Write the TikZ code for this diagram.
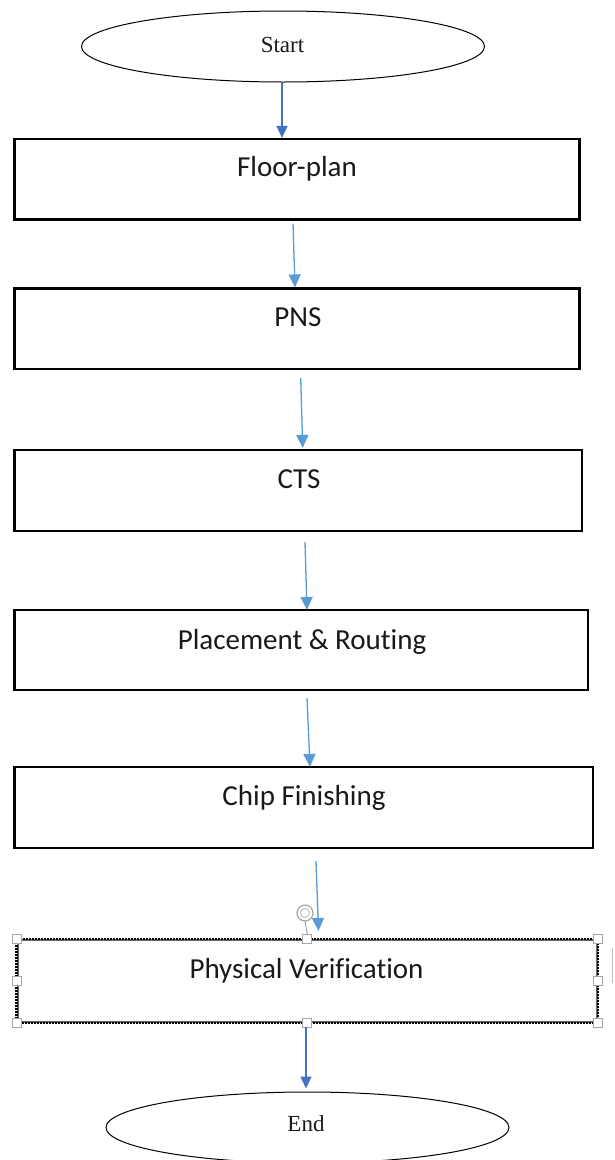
\documentclass[tikz,border=0pt]{standalone}
\usepackage{fontspec}
\setmainfont{Carlito}[Ligatures={NoCommon}]
\newfontfamily\serifface{Liberation Serif}
\usetikzlibrary{shapes.geometric,arrows.meta,calc}

\definecolor{lightarrow}{HTML}{5B9BD5}
\definecolor{darkarrow}{HTML}{4472C4}
\definecolor{handlegray}{HTML}{A6A6A6}

\tikzset{
  stepbox/.style={draw=black, line width=2.2pt, rectangle, inner sep=0pt},
  selbox/.style={draw=black!60, line width=2.2pt, rectangle, inner sep=0pt},
  seldash/.style={draw=black, line width=2.2pt, dash pattern=on 2pt off 1pt},
  terminal/.style={draw=black, line width=1pt, ellipse, inner sep=0pt,
                   minimum width=403pt, minimum height=71pt},
  steptext/.style={anchor=base, inner sep=0pt, font=\fontsize{29}{31}\selectfont, text=black!90},
  termtext/.style={anchor=base, inner sep=0pt, font=\serifface\fontsize{23}{25}\selectfont, text=black!90},
  flowlight/.style={draw=lightarrow, line width=1.3pt, -{Triangle[width=12pt,length=13pt]}},
  flowdark/.style={draw=darkarrow, line width=1.6pt, -{Triangle[width=11pt,length=12pt]}},
  grip/.style={draw=handlegray, fill=white, line width=0.9pt, rectangle,
               minimum size=9pt, inner sep=0pt}
}

\begin{document}
\begin{tikzpicture}[x=1pt, y=-1pt]
  \useasboundingbox (0,0) rectangle (614,1160);
  \fill[white] (0,0) rectangle (614,1160);

  % terminals
  \node[terminal] (start) at (283,46.5) {};
  \node[termtext] (starttxt) at (282.5,52) {Start};

  % process steps
  \node[stepbox, minimum width=565pt, minimum height=80.5pt] (fp)  at (297,179.25) {};
  \node[stepbox, minimum width=565pt, minimum height=80.5pt] (pns) at (297,328.75) {};
  \node[stepbox, minimum width=567.5pt, minimum height=81pt] (cts) at (298.25,490.5) {};
  \node[stepbox, minimum width=573.5pt, minimum height=80pt] (pr)  at (301.25,650) {};
  \node[stepbox, minimum width=578.5pt, minimum height=81pt] (cf)  at (303.75,807.5) {};

  \node[steptext] (fptxt)  at (297,176) {Floor-plan};
  \node[steptext] (pnstxt) at (298,326) {PNS};
  \node[steptext] (ctstxt) at (299,488) {CTS};
  \node[steptext] (prtxt)  at (302,649) {Placement \& Routing};
  \node[steptext] (cftxt)  at (304,805) {Chip Finishing};

  % selected step: grey base line with a dark hatched border on top
  \node[selbox, minimum width=579.4pt, minimum height=82pt] (pv) at (307.3,981) {};
  \draw[seldash] (pv.north west) rectangle (pv.south east);
  \node[steptext] (pvtxt) at (306.5,978) {Physical Verification};

  % rotation grip above the selection
  \coordinate (rot) at (305,913);
  \draw[handlegray, line width=1.2pt] (rot) circle (8pt);
  \draw[handlegray!70, line width=1pt] (rot) circle (4.5pt);
  \draw[handlegray, line width=1pt] ($(rot)+(0,8)$) -- ([yshift=4.5pt]pv.north);

  \foreach \a in {north west,north,north east,west,east,south west,south,south east}
    \node[grip] (g-\a) at (pv.\a) {};

  % side marker at the right edge
  \coordinate (sideA) at (612.5,948);
  \coordinate (sideB) at (612.5,983);
  \draw[black!25, line width=1pt] (sideA) -- (sideB);

  \node[terminal] (end) at (307.5,1127.5) {};
  \node[termtext] (endtxt) at (306,1131.5) {End};

  % connectors
  \draw[flowdark]  ([xshift=-1pt]start.south) -- ([xshift=-15pt]fp.north);
  \draw[flowlight] ([xshift=-4pt,yshift=-3pt]fp.south)   -- ([xshift=-2pt]pns.north);
  \draw[flowlight] ([xshift=3.7pt,yshift=-8pt]pns.south) -- ([xshift=4.5pt,yshift=1pt]cts.north);
  \draw[flowlight] ([xshift=6.75pt,yshift=-10pt]cts.south) -- ([xshift=5.75pt,yshift=-1pt]pr.north);
  \draw[flowlight] ([xshift=5.75pt,yshift=-7pt]pr.south) -- ([xshift=6.25pt,yshift=-1pt]cf.north);
  \draw[flowlight] ([xshift=12.25pt,yshift=-12pt]cf.south) -- ([xshift=11.2pt,yshift=8pt]pv.north);
  \draw[flowdark]  ([xshift=-1.3pt,yshift=-4pt]pv.south) -- ([xshift=-1.5pt,yshift=3pt]end.north);
\end{tikzpicture}
\end{document}
